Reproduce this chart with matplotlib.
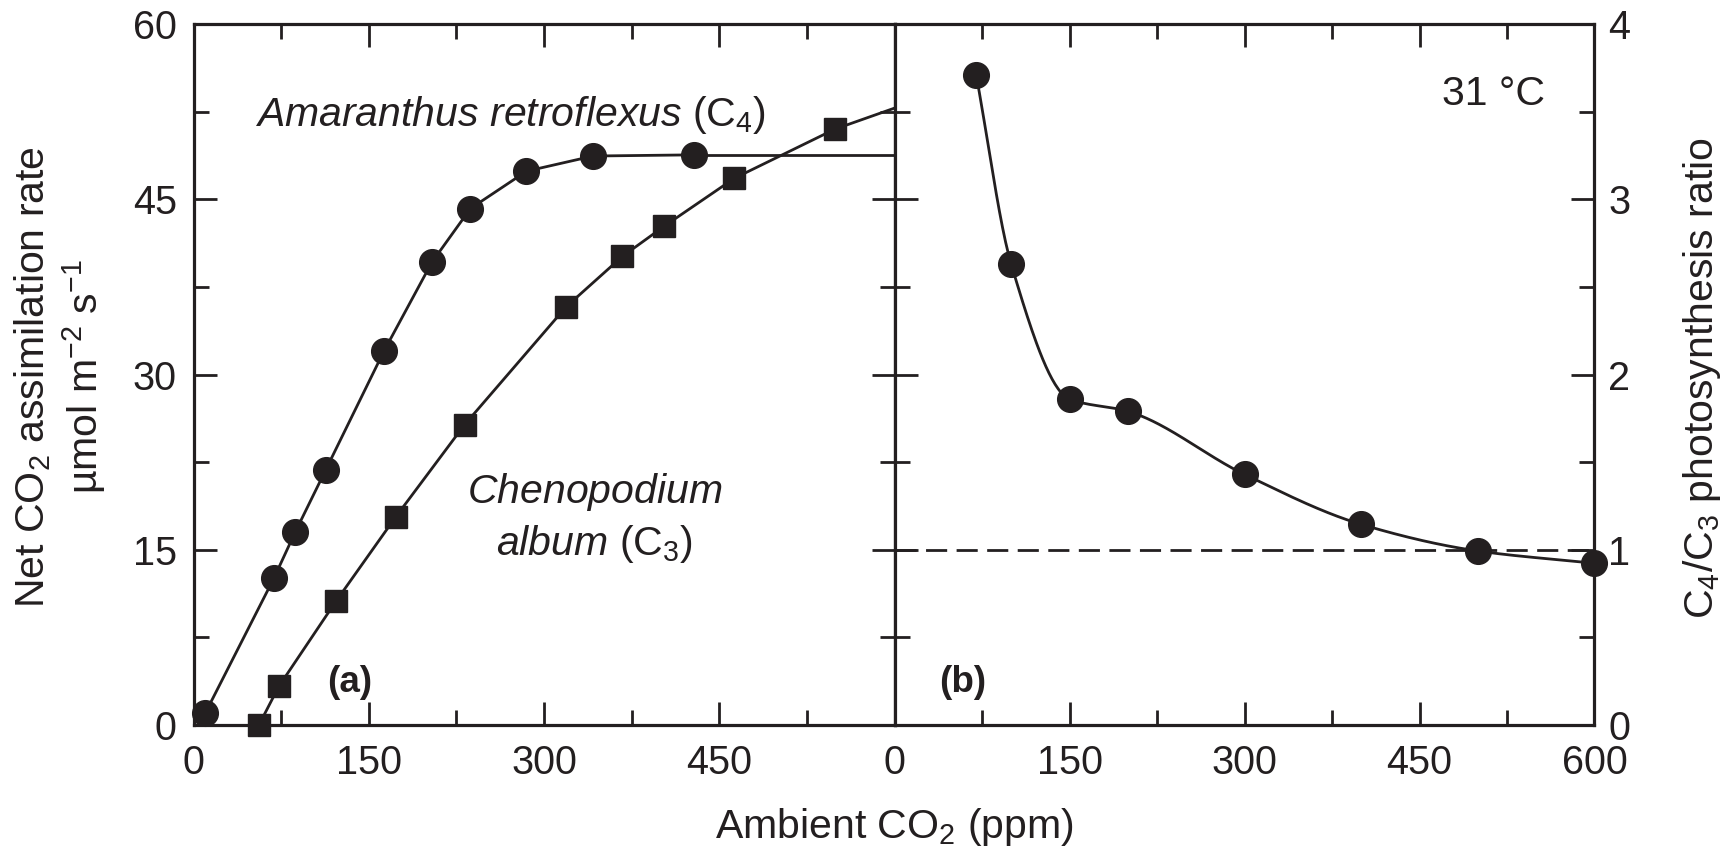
import numpy as np
import matplotlib
matplotlib.use("Agg")
import matplotlib.pyplot as plt
from matplotlib.ticker import MultipleLocator

# ---------------- data ----------------
co2_c4 = [10, 69, 87, 113, 163, 204, 237, 285, 342, 428]
rate_c4 = [1.0, 12.6, 16.5, 21.8, 32.0, 39.6, 44.2, 47.4, 48.7, 48.8]

co2_c3 = [56, 73, 122, 173, 232, 319, 367, 403, 463, 549]
rate_c3 = [0.0, 3.3, 10.6, 17.8, 25.7, 35.8, 40.1, 42.7, 46.8, 51.0]
rate_c3_at_600 = 52.8          # where the C3 line meets the right edge

ratio_co2 = [70, 100, 150, 200, 300, 400, 500, 600]
ratio_c4_c3 = [3.71, 2.63, 1.86, 1.79, 1.43, 1.145, 0.993, 0.923]

x_ticks = [0, 150, 300, 450, 600]
xlabels_a = ["0", "150", "300", "450", ""]
xlabels_b = ["0", "150", "300", "450", "600"]
ya_ticks = [0, 15, 30, 45, 60]
yb_ticks = [0, 1, 2, 3, 4]
X_MAX = 600

INK = "#231f20"
FS = 29.5
FS_TICK = 28.5
FS_PANEL = 26.5

plt.rcParams["font.family"] = ["Liberation Sans", "DejaVu Sans"]
plt.rcParams["mathtext.fontset"] = "custom"
plt.rcParams["mathtext.rm"] = "Liberation Sans"
plt.rcParams["mathtext.it"] = "Liberation Sans:italic"
plt.rcParams["mathtext.bf"] = "Liberation Sans:bold"


def pchip(x, y, xs):
    x = np.asarray(x, float)
    y = np.asarray(y, float)
    h = np.diff(x)
    d = np.diff(y) / h
    n = len(x)
    m = np.zeros(n)
    for k in range(1, n - 1):
        if d[k - 1] * d[k] <= 0:
            m[k] = 0.0
        else:
            w1 = 2 * h[k] + h[k - 1]
            w2 = h[k] + 2 * h[k - 1]
            m[k] = (w1 + w2) / (w1 / d[k - 1] + w2 / d[k])
    m[0] = d[0]
    m[-1] = d[-1]
    idx = np.clip(np.searchsorted(x, xs) - 1, 0, n - 2)
    t = (xs - x[idx]) / h[idx]
    h00 = 2 * t**3 - 3 * t**2 + 1
    h10 = t**3 - 2 * t**2 + t
    h01 = -2 * t**3 + 3 * t**2
    h11 = t**3 - t**2
    return (h00 * y[idx] + h10 * h[idx] * m[idx] + h01 * y[idx + 1]
            + h11 * h[idx] * m[idx + 1])


W, H = 1734, 851
fig = plt.figure(figsize=(W / 100, H / 100), dpi=100)
axA = fig.add_axes([193.5 / W, 126 / H, 701 / W, 701 / H])
axB = fig.add_axes([894.5 / W, 126 / H, 700 / W, 701 / H])


def style(ax):
    for s in ax.spines.values():
        s.set_linewidth(2.3)
        s.set_color(INK)
    ax.tick_params(which="both", direction="in", top=True, bottom=True,
                   left=True, right=True, width=2.0, color=INK,
                   labelcolor=INK, labelsize=FS_TICK)
    ax.tick_params(which="major", length=16.5)
    ax.tick_params(which="minor", length=10.5)
    ax.tick_params(axis="x", which="major", pad=14)
    ax.set_xlim(0, X_MAX)
    ax.set_xticks(x_ticks)
    ax.xaxis.set_minor_locator(MultipleLocator(75))


# ---------------- panel (a) ----------------
style(axA)
axA.set_ylim(0, 60)
axA.set_yticks(ya_ticks)
axA.yaxis.set_minor_locator(MultipleLocator(7.5))
axA.set_xticklabels(xlabels_a)
axA.tick_params(axis="y", which="major", pad=12)

axA.plot(co2_c4, rate_c4, color=INK, lw=2.0, marker="o", ms=18.5,
         clip_on=False, zorder=3)
axA.plot([co2_c4[-1], X_MAX], [rate_c4[-1], rate_c4[-1]], color=INK,
         lw=2.0, zorder=2)
axA.plot(co2_c3 + [X_MAX], rate_c3 + [rate_c3_at_600], color=INK, lw=2.0,
         marker="s", ms=16.5, markevery=list(range(len(co2_c3))),
         clip_on=False, zorder=3)

axA.text(52.6, 51.3, r"$\mathit{Amaranthus\ retroflexus}$ (C$_4$)",
         fontsize=FS, color=INK, ha="left", va="baseline")
axA.text(343.5, 19.0, r"$\mathit{Chenopodium}$", fontsize=FS, color=INK,
         ha="center", va="baseline")
axA.text(343.5, 14.55, r"$\mathit{album}$ (C$_3$)", fontsize=FS, color=INK,
         ha="center", va="baseline")
axA.text(134, 2.85, "(a)", fontsize=FS_PANEL, fontweight="bold",
         color=INK, ha="center", va="baseline")

# ---------------- panel (b) ----------------
style(axB)
axB.set_ylim(0, 4)
axB.set_yticks(yb_ticks)
axB.yaxis.set_minor_locator(MultipleLocator(0.5))
axB.set_xticklabels(xlabels_b)
axB.tick_params(axis="y", which="both", labelleft=False, labelright=True)
axB.tick_params(axis="y", which="major", pad=10)

xs = np.linspace(ratio_co2[0], ratio_co2[-1], 400)
axB.plot(xs, pchip(ratio_co2, ratio_c4_c3, xs), color=INK, lw=2.0, zorder=3)
axB.plot(ratio_co2, ratio_c4_c3, ls="none", marker="o", ms=18.5, color=INK,
         clip_on=False, zorder=4)
axB.axhline(1.0, color=INK, lw=2.0, ls=(0, (7.6, 3.4)), zorder=2)

axB.text(58.7, 0.19, "(b)", fontsize=FS_PANEL, fontweight="bold",
         color=INK, ha="center", va="baseline")
axB.text(558, 3.54, "31 °C", fontsize=FS, color=INK, ha="right",
         va="baseline")

# ---------------- axis labels ----------------
fig.text(60 / W, 1 - 377 / H,
         "Net CO$_2$ assimilation rate\nµmol m$^{-2}$ s$^{-1}$",
         rotation=90, ha="center", va="center", fontsize=FS, color=INK,
         linespacing=1.2, multialignment="center")
fig.text(1702 / W, 1 - 378 / H, "C$_4$/C$_3$ photosynthesis ratio",
         rotation=90, ha="center", va="center", fontsize=FS, color=INK)
fig.text(894 / W, 1 - 838 / H, "Ambient CO$_2$ (ppm)", ha="center",
         va="baseline", fontsize=FS, color=INK)

fig.savefig("out.png", dpi=100, facecolor="white")
